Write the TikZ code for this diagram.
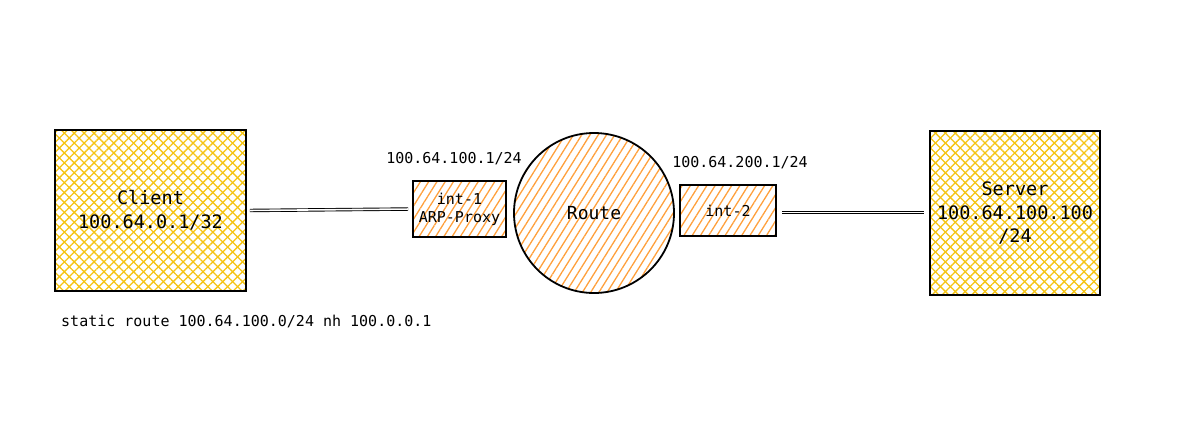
\documentclass[tikz,border=0pt]{standalone}
\usepackage{fontspec}
\setmonofont{DejaVu Sans Mono}
\usetikzlibrary{patterns.meta}
\definecolor{hy}{RGB}{245,196,20}
\definecolor{ho}{RGB}{255,160,60}
\tikzset{
  hostbox/.style={draw=black,line width=1.8pt,inner sep=0pt,align=center,
    font=\ttfamily\fontsize{18.5}{23.5}\selectfont,
    preaction={pattern={Lines[angle=45,distance=7pt,line width=1.3pt]},pattern color=hy},
    preaction={pattern={Lines[angle=-45,distance=7pt,line width=1.3pt]},pattern color=hy}},
  ifbox/.style={draw=black,line width=1.8pt,inner sep=0pt,align=center,
    font=\ttfamily\fontsize{15}{18}\selectfont,
    preaction={pattern={Lines[angle=58,distance=7pt,line width=1.3pt]},pattern color=ho}},
  lbl/.style={font=\ttfamily\fontsize{15}{18}\selectfont,inner sep=0pt},
  wire/.style={double=white,double distance=1.6pt,line width=0.9pt,draw=black}
}
\begin{document}
\begin{tikzpicture}[x=1pt,y=-1pt]
\useasboundingbox (0,0) rectangle (1180,445);
\node[hostbox,minimum width=191pt,minimum height=161pt] (client) at (150.5,210.5) {Client\\100.64.0.1/32};
\node[hostbox,minimum width=170pt,minimum height=164pt] (server) at (1015,213) {Server\\100.64.100.100\\/24};
\node[ifbox,minimum width=93pt,minimum height=56pt] (int1) at (459.5,209) {int-1\\ARP-Proxy};
\node[ifbox,minimum width=96pt,minimum height=51pt] (int2) at (728,210.5) {int-2};
\node[ifbox,circle,minimum size=160pt,font=\ttfamily\fontsize{18}{22}\selectfont] (route) at (594,213) {Route};
\node[lbl] (l1) at (454,159) {100.64.100.1/24};
\node[lbl] (l2) at (740,163) {100.64.200.1/24};
\node[lbl,anchor=west] (l3) at (61,321) {static route 100.64.100.0/24 nh 100.0.0.1};
\draw[wire,shorten <=3pt,shorten >=4pt] (client.east) -- (int1.west);
\draw[wire,shorten <=5pt,shorten >=5pt] ([yshift=-2pt]int2.east) -- ([yshift=-2pt]int2.east -| server.west);
\end{tikzpicture}
\end{document}
